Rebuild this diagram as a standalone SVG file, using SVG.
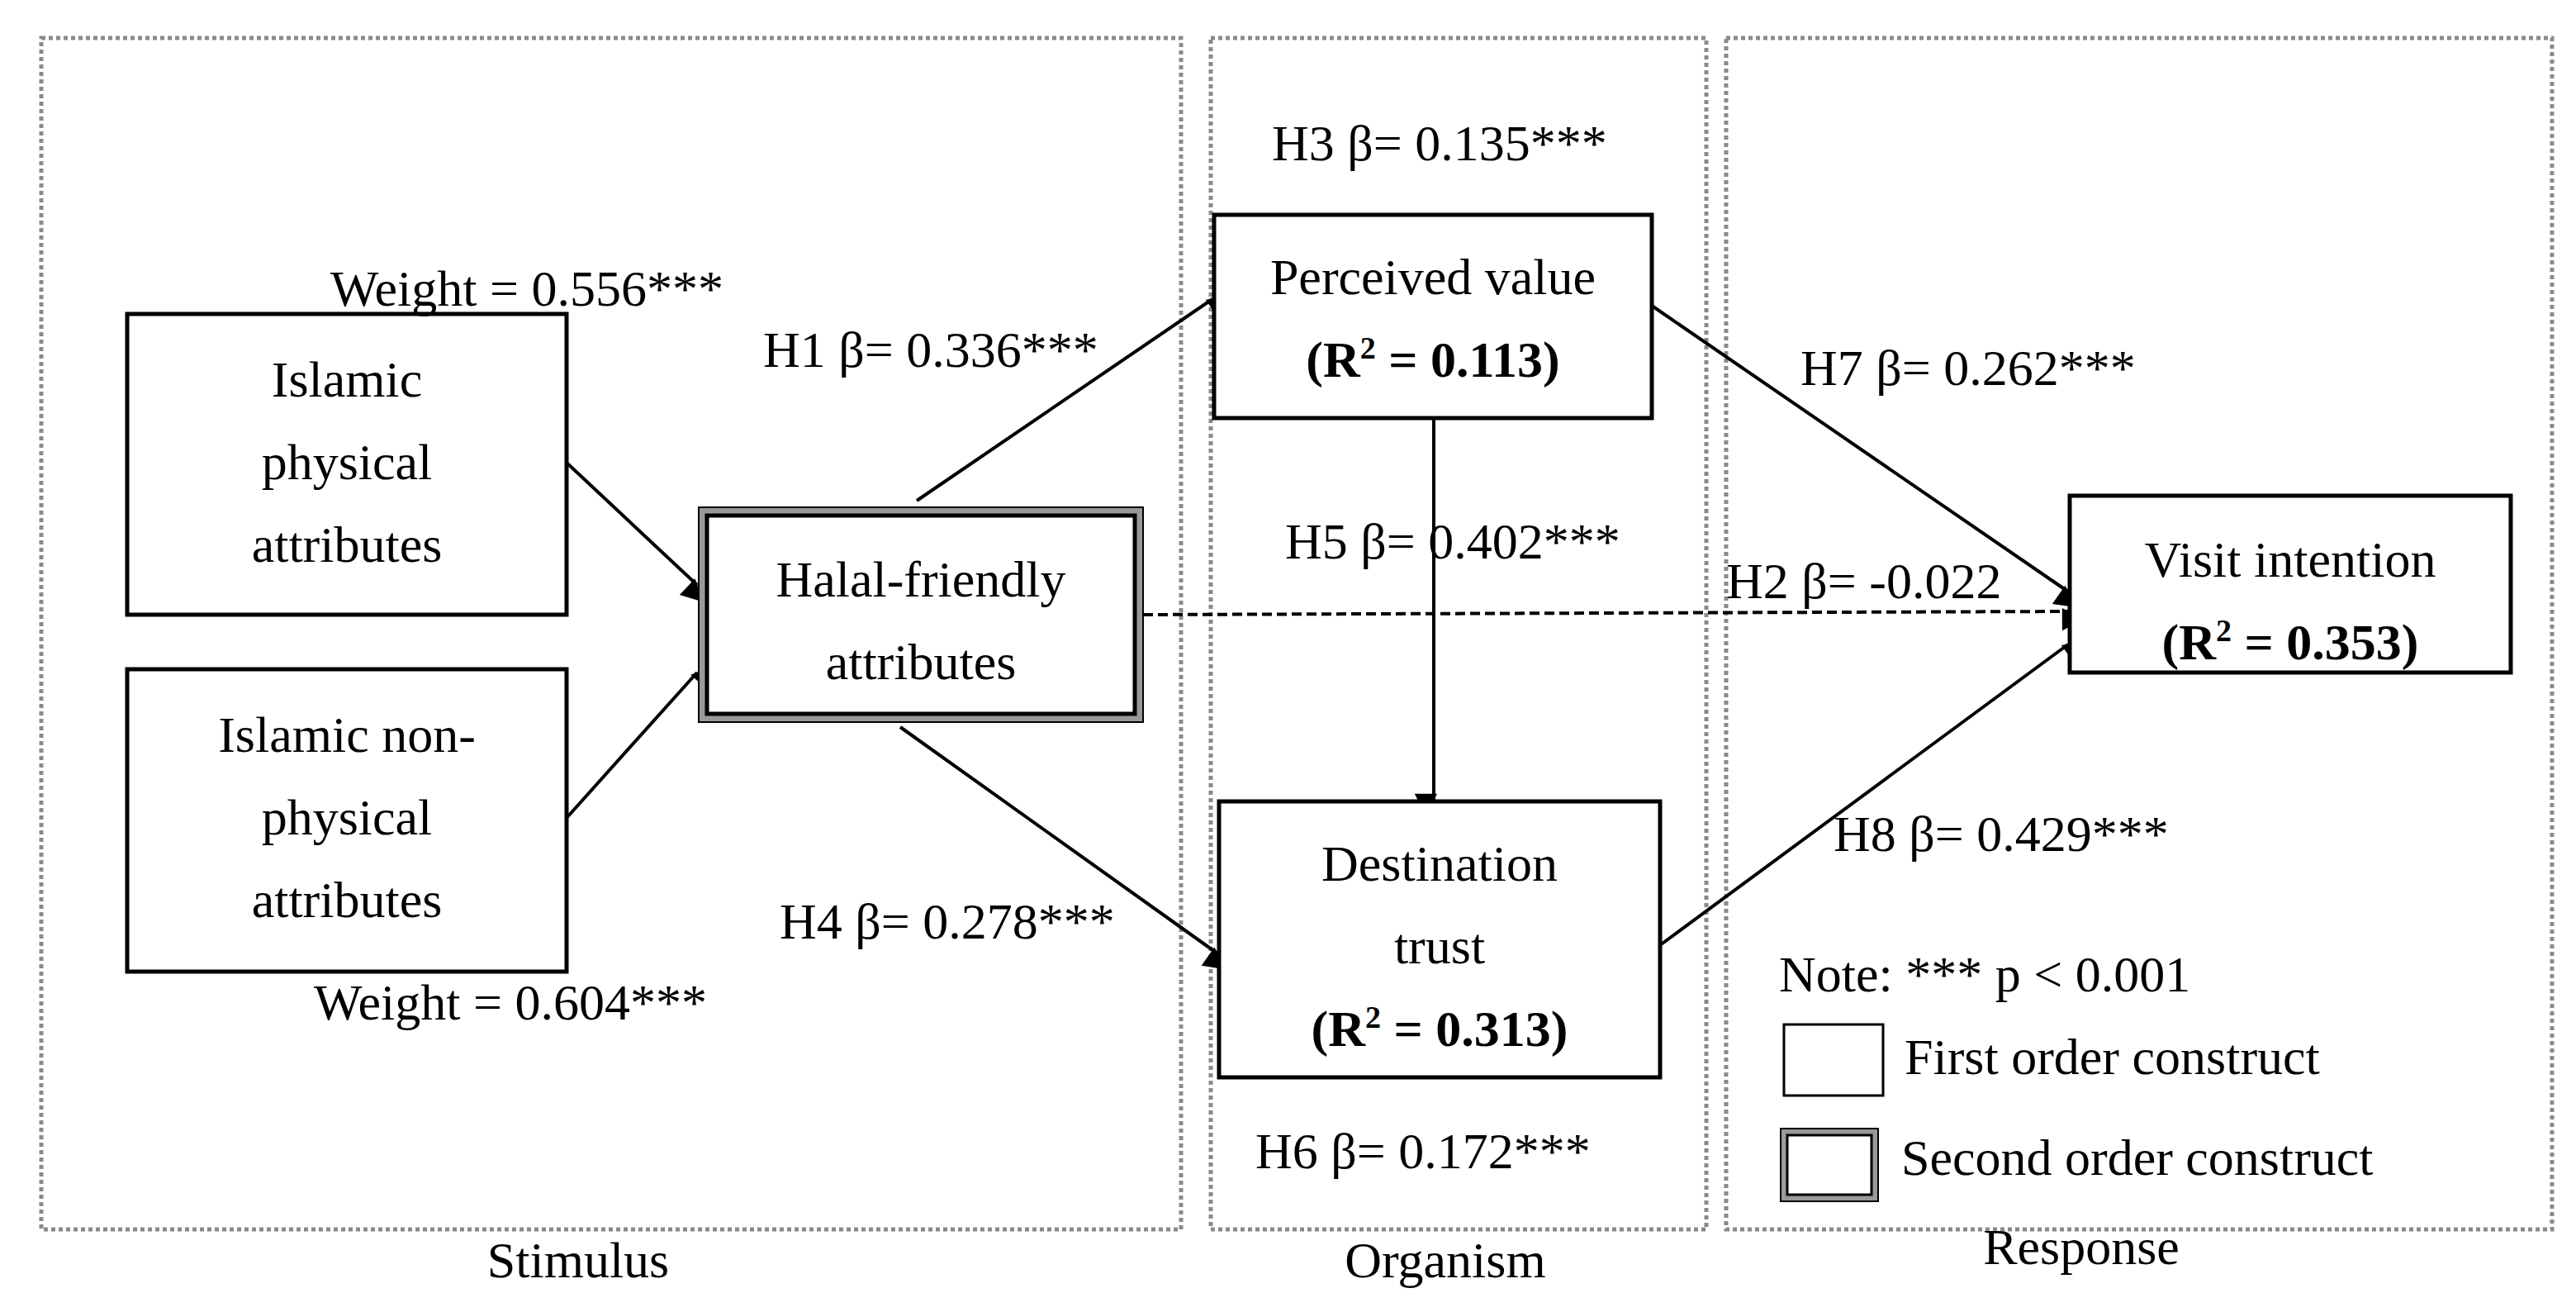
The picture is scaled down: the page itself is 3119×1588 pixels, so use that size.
<svg xmlns="http://www.w3.org/2000/svg" width="3119" height="1588" viewBox="0 0 3119 1588">
<style>
text{font-family:"Liberation Serif","Times New Roman",serif;font-size:62px;fill:#000}
.b{font-weight:bold}
.m{text-anchor:middle}
.frame{fill:none;stroke:#8a8a8a;stroke-width:5;stroke-dasharray:5 4}
.box{fill:#fff;stroke:#000;stroke-width:5}
.ln{stroke:#000;stroke-width:4;fill:none;marker-end:url(#ah)}
</style>
<defs>
<marker id="ah" viewBox="0 0 10 10" refX="9" refY="5" markerWidth="9" markerHeight="8" markerUnits="userSpaceOnUse" orient="auto" style="overflow:visible">
<path d="M0,0 L10,5 L0,10 z" fill="#000" transform="scale(3.4)"/>
</marker>
</defs>
<rect width="3119" height="1588" fill="#fff"/>
<g id="frames">
<rect class="frame" x="50" y="46" width="1380" height="1442"/>
<rect class="frame" x="1466" y="46" width="600" height="1442"/>
<rect class="frame" x="2090" y="46" width="1000" height="1442"/>
<text class="m" x="700" y="1546">Stimulus</text>
<text class="m" x="1750" y="1546">Organism</text>
<text class="m" x="2520" y="1530">Response</text>
</g>
<g id="connectors">
<line class="ln" x1="686" y1="560" x2="844" y2="708"/>
<line class="ln" x1="686" y1="990" x2="844" y2="814"/>
<line class="ln" x1="1110" y1="606" x2="1468" y2="362"/>
<line class="ln" x1="1090" y1="880" x2="1474" y2="1154"/>
<line class="ln" x1="1384" y1="744" x2="2504" y2="740" stroke-dasharray="12 6"/>
<line class="ln" x1="1736" y1="506" x2="1736" y2="968"/>
<line class="ln" x1="2000" y1="370" x2="2504" y2="716"/>
<line class="ln" x1="2010" y1="1144" x2="2504" y2="780"/>
</g>
<g id="n-physical">
<rect class="box" x="154" y="380" width="532" height="364"/>
<text class="m" x="420" y="480">Islamic</text>
<text class="m" x="420" y="580">physical</text>
<text class="m" x="420" y="680">attributes</text>
</g>
<g id="n-nonphysical">
<rect class="box" x="154" y="810" width="532" height="366"/>
<text class="m" x="420" y="910">Islamic non-</text>
<text class="m" x="420" y="1010">physical</text>
<text class="m" x="420" y="1110">attributes</text>
</g>
<g id="n-halal">
<rect x="846" y="614" width="538" height="260" fill="#999" stroke="#000" stroke-width="2"/>
<rect class="box" x="856" y="624" width="518" height="240" stroke-width="4"/>
<text class="m" x="1115" y="722">Halal-friendly</text>
<text class="m" x="1115" y="822">attributes</text>
</g>
<g id="n-perceived">
<rect class="box" x="1470" y="260" width="530" height="246"/>
<text class="m" x="1735" y="356">Perceived value</text>
<text class="m b" x="1735" y="456">(R<tspan font-size="38" dy="-22">2</tspan><tspan dy="22"> = 0.113)</tspan></text>
</g>
<g id="n-trust">
<rect class="box" x="1476" y="970" width="534" height="334"/>
<text class="m" x="1743" y="1066">Destination</text>
<text class="m" x="1743" y="1166">trust</text>
<text class="m b" x="1743" y="1266">(R<tspan font-size="38" dy="-22">2</tspan><tspan dy="22"> = 0.313)</tspan></text>
</g>
<g id="n-visit">
<rect class="box" x="2506" y="600" width="534" height="214"/>
<text class="m" x="2773" y="698">Visit intention</text>
<text class="m b" x="2773" y="798">(R<tspan font-size="38" dy="-22">2</tspan><tspan dy="22"> = 0.353)</tspan></text>
</g>
<g id="labels">
<text x="1540" y="194">H3 β= 0.135***</text>
<text x="400" y="370">Weight = 0.556***</text>
<text x="924" y="444">H1 β= 0.336***</text>
<text x="1556" y="676">H5 β= 0.402***</text>
<text x="2090" y="724">H2 β= -0.022</text>
<text x="2180" y="466">H7 β= 0.262***</text>
<text x="2220" y="1030">H8 β= 0.429***</text>
<text x="944" y="1136">H4 β= 0.278***</text>
<text x="380" y="1234">Weight = 0.604***</text>
<text x="1520" y="1414">H6 β= 0.172***</text>
</g>
<g id="legend">
<text x="2154" y="1200">Note: *** p &lt; 0.001</text>
<rect x="2160" y="1240" width="120" height="86" fill="#fff" stroke="#000" stroke-width="3"/>
<text x="2306" y="1300">First order construct</text>
<rect x="2156" y="1366" width="118" height="88" fill="#999" stroke="#000" stroke-width="2"/>
<rect x="2164" y="1374" width="102" height="72" fill="#fff" stroke="#000" stroke-width="3"/>
<text x="2302" y="1422">Second order construct</text>
</g>
</svg>
